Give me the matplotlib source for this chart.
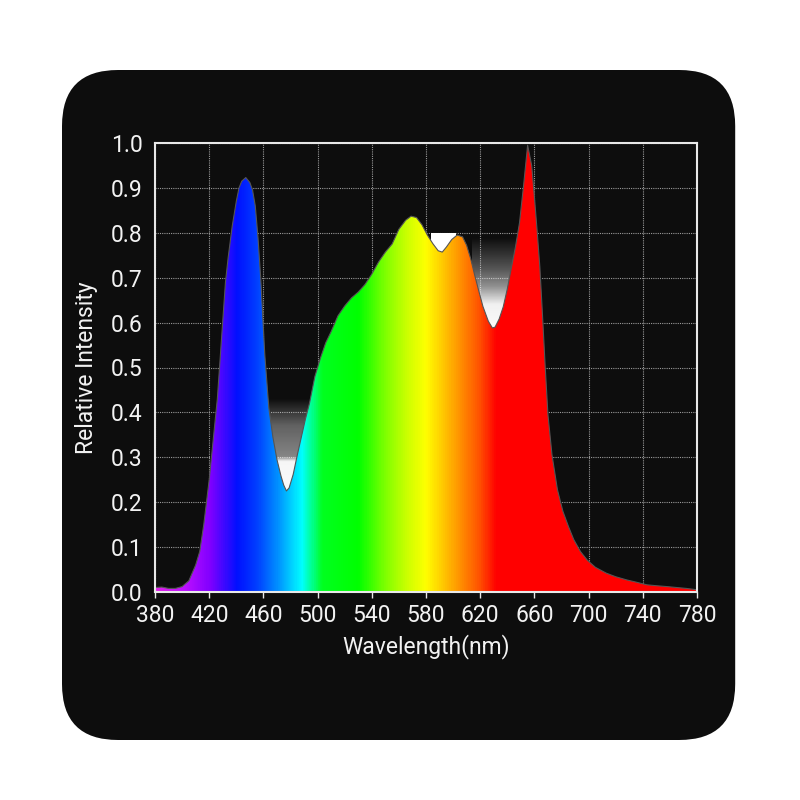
import numpy as np
import matplotlib
matplotlib.use("Agg")
import matplotlib.pyplot as plt
from matplotlib.patches import FancyBboxPatch, Polygon
from matplotlib.colors import LinearSegmentedColormap

plt.rcParams['font.family'] = ['Roboto', 'DejaVu Sans']

# ---- data ----
wavelength = [380, 385, 390, 395, 400, 405, 410, 413, 416, 420, 423, 426, 429, 432, 434,
              437, 440, 442, 444, 447, 450, 452, 454, 456, 458, 461, 464, 467, 470, 473,
              475, 477, 479, 482, 485, 488, 491, 494, 498, 502, 506, 510, 515, 520, 525,
              530, 535, 540, 545, 550, 555, 560, 565, 569, 573, 577, 581, 585, 589, 592,
              595, 599, 603, 607, 610, 613, 616, 619, 622, 626, 629, 631, 634, 637, 640,
              643, 646, 649, 652, 655, 658, 660, 662, 664, 666, 668, 670, 673, 677, 681,
              685, 689, 694, 699, 705, 713, 720, 728, 735, 743, 750, 758, 765, 772, 780]
intensity = [0.010, 0.011, 0.008, 0.008, 0.012, 0.025, 0.060, 0.090, 0.150, 0.250, 0.340,
             0.430, 0.560, 0.690, 0.745, 0.815, 0.870, 0.900, 0.915, 0.923, 0.912, 0.895,
             0.860, 0.790, 0.700, 0.530, 0.410, 0.345, 0.295, 0.258, 0.238, 0.225, 0.232,
             0.262, 0.305, 0.345, 0.385, 0.420, 0.480, 0.520, 0.555, 0.580, 0.615, 0.637,
             0.655, 0.668, 0.685, 0.708, 0.735, 0.757, 0.775, 0.808, 0.828, 0.837, 0.834,
             0.818, 0.795, 0.776, 0.760, 0.757, 0.768, 0.785, 0.795, 0.791, 0.772, 0.742,
             0.705, 0.670, 0.636, 0.603, 0.588, 0.590, 0.608, 0.635, 0.675, 0.722, 0.768,
             0.822, 0.905, 0.995, 0.950, 0.880, 0.805, 0.725, 0.615, 0.500, 0.395, 0.305,
             0.228, 0.180, 0.147, 0.117, 0.090, 0.071, 0.055, 0.042, 0.034, 0.027, 0.022,
             0.016, 0.014, 0.012, 0.010, 0.008, 0.005]
x_ticks = [380, 420, 460, 500, 540, 580, 620, 660, 700, 740, 780]
y_ticks = [0.0, 0.1, 0.2, 0.3, 0.4, 0.5, 0.6, 0.7, 0.8, 0.9, 1.0]

# colour stops of the spectrum fill (wavelength, colour)
color_stops = [(380, '#e020e8'), (400, '#c010ff'), (420, '#8000ff'), (440, '#0010ff'),
               (455, '#0040ff'), (470, '#0090ff'), (488, '#00ffff'), (503, '#00ff20'),
               (530, '#00ff00'), (550, '#80ff00'), (565, '#c8ff00'), (580, '#ffff00'),
               (600, '#ffa800'), (620, '#ff5000'), (632, '#ff0000'), (780, '#ff0000')]

BG = '#0d0d0d'
FS = 16.5

fig = plt.figure(figsize=(8, 8), dpi=100, facecolor='white')

# black rounded panel
panel = FancyBboxPatch((0.0775 + 0.07, 0.075 + 0.07), 0.8415 - 0.14, 0.8375 - 0.14,
                       boxstyle="round,pad=0.07", transform=fig.transFigure,
                       facecolor=BG, edgecolor='none', zorder=-5)
fig.patches.append(panel)

ax = fig.add_axes([0.19375, 0.26, 0.6775, 0.56125])
ax.set_zorder(5)
ax.set_facecolor(BG)

# grid
ax.set_xticks(x_ticks)
ax.set_yticks(y_ticks)
ax.grid(True, color='#9a9a9a', linestyle=(0, (1, 1)), linewidth=0.8, zorder=1)
ax.set_axisbelow(True)

# white glare patches in the dips (photographic artefacts)
def glare(x0, x1, y0, y1, profile):
    ys = np.linspace(y1, y0, 100)
    a = np.interp(ys, [p[0] for p in profile], [p[1] for p in profile])
    img = np.ones((100, 2, 4))
    img[:, :, 3] = a[:, None]
    ax.imshow(img, extent=[x0, x1, y0, y1], aspect='auto', zorder=2,
              interpolation='bilinear')

glare(462, 494, 0.20, 0.43, [(0.20, 1.0), (0.29, 0.97), (0.30, 0.5), (0.37, 0.35), (0.43, 0.0)])
glare(584, 602, 0.74, 0.80, [(0.74, 1.0), (0.80, 1.0)])
glare(614, 648, 0.57, 0.79, [(0.57, 1.0), (0.64, 0.95), (0.68, 0.55), (0.72, 0.3), (0.79, 0.0)])

# spectrum fill with wavelength gradient
stops = [((w - 380) / 400.0, c) for w, c in color_stops]
cmap = LinearSegmentedColormap.from_list('spec', stops)
grad = np.linspace(0, 1, 800)[None, :]
im = ax.imshow(grad, extent=[380, 780, 0, 1], aspect='auto', cmap=cmap,
               zorder=3, interpolation='bilinear')
verts = [(380, 0)] + list(zip(wavelength, intensity)) + [(780, 0)]
clip = Polygon(verts, closed=True, transform=ax.transData, facecolor='none', edgecolor='none')
ax.add_patch(clip)
im.set_clip_path(clip)
ax.plot(wavelength, intensity, color='#555555', linewidth=0.8, zorder=4)
ax.set_xlim(380, 780)
ax.set_ylim(0, 1.0)

# spines and ticks
for s in ax.spines.values():
    s.set_color('#e8e8e8')
    s.set_linewidth(1.5)
    s.set_zorder(5)
ax.tick_params(axis='x', colors='#e8e8e8', length=4, width=1, pad=5, labelsize=FS,
               labelcolor='#f2f2f2')
ax.tick_params(axis='y', length=0, pad=9, labelsize=FS, labelcolor='#f2f2f2')
ax.set_yticklabels([f'{v:.1f}' for v in y_ticks])
ax.set_xticklabels([str(v) for v in x_ticks])

ax.set_xlabel('Wavelength(nm)', color='#f2f2f2', fontsize=FS, labelpad=5)
ax.set_ylabel('Relative Intensity', color='#f2f2f2', fontsize=FS, labelpad=9)

fig.savefig('out.png', dpi=100, facecolor='white')
